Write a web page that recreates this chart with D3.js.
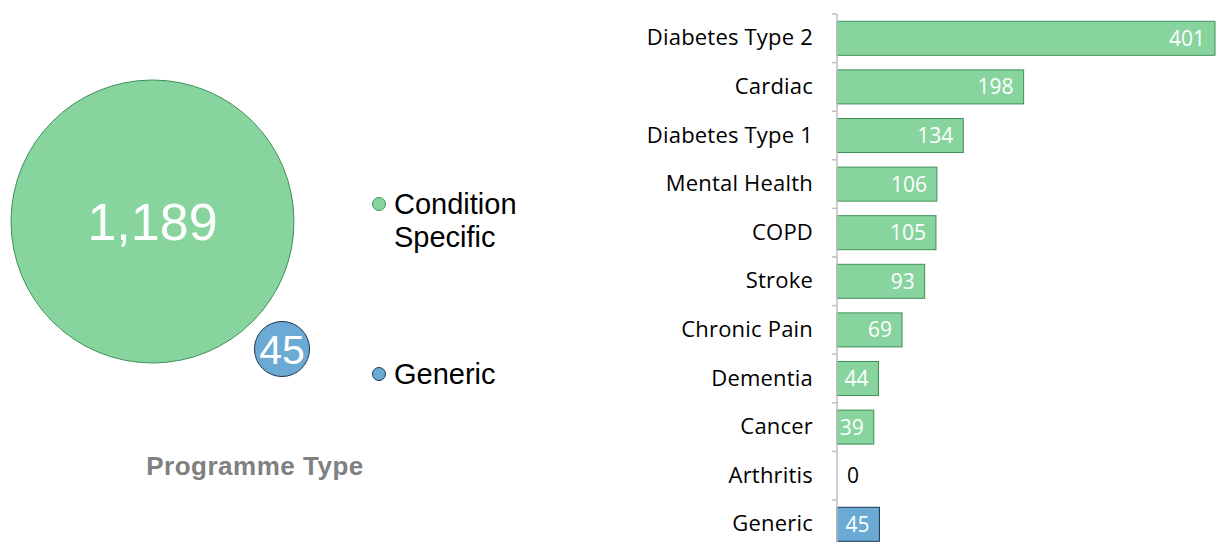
<!DOCTYPE html>
<html>
<head>
<meta charset="utf-8">
<script src="https://cdn.jsdelivr.net/npm/d3@7"></script>
<style>
  body { margin: 0; background: #fff; }
  svg { display: block; }
</style>
</head>
<body>
<div class="canvas"></div>
<script>
// bubble data (programme type)
var typeNames = ["Condition Specific", "Generic"];
var typeValues = [1189, 45];
var typeColors = ["#88d49e", "#6aaad4"];
var typeStrokes = ["#3f8f57", "#1f3550"];

// bar data (conditions)
var conditions = ["Diabetes Type 2", "Cardiac", "Diabetes Type 1", "Mental Health", "COPD",
  "Stroke", "Chronic Pain", "Dementia", "Cancer", "Arthritis", "Generic"];
var counts = [401, 198, 134, 106, 105, 93, 69, 44, 39, 0, 45];
var barTypes = [0, 0, 0, 0, 0, 0, 0, 0, 0, 0, 1];

var width = 1216;
var height = 542;

var svg = d3.select(".canvas")
  .append("svg")
  .attr("width", width)
  .attr("height", height);

/* bubbles */
var rScale = d3.scaleSqrt().domain([0, 1189]).range([0, 141.5]);
var bubbleCenters = [[152.5, 221.5], [282, 349]];
var bubbles = svg.append("g").attr("class", "bubbles");

bubbles.selectAll("circle")
  .data(typeValues)
  .enter()
  .append("circle")
  .attr("cx", (d, i) => bubbleCenters[i][0])
  .attr("cy", (d, i) => bubbleCenters[i][1])
  .attr("r", (d) => rScale(d))
  .style("fill", (d, i) => typeColors[i])
  .style("stroke", (d, i) => typeStrokes[i])
  .style("stroke-width", 1);

bubbles.selectAll("text")
  .data(typeValues)
  .enter()
  .append("text")
  .attr("x", (d, i) => bubbleCenters[i][0])
  .attr("y", (d, i) => bubbleCenters[i][1])
  .attr("dy", "0.36em")
  .attr("text-anchor", "middle")
  .style("font-family", "'Liberation Sans', Arial, sans-serif")
  .style("font-size", (d, i) => (i === 0 ? "52px" : "41px"))
  .style("fill", "#fff")
  .text((d) => d3.format(",")(d));

/* legend */
var legendY = [204, 374];
var legend = svg.append("g").attr("class", "legend");
legend.selectAll("circle")
  .data(typeNames)
  .enter()
  .append("circle")
  .attr("cx", 379)
  .attr("cy", (d, i) => legendY[i])
  .attr("r", 6.5)
  .style("fill", (d, i) => typeColors[i])
  .style("stroke", (d, i) => typeStrokes[i])
  .style("stroke-width", 1);

legend.selectAll("text")
  .data(typeNames)
  .enter()
  .append("text")
  .attr("x", 394)
  .attr("y", (d, i) => legendY[i] + 10)
  .style("font-family", "'Liberation Sans', Arial, sans-serif")
  .style("font-size", "29px")
  .style("fill", "#000")
  .each(function (d) {
    var words = d.split(" ");
    var t = d3.select(this);
    words.forEach(function (w, j) {
      t.append("tspan").attr("x", 394).attr("dy", j === 0 ? 0 : 33).text(w);
    });
  });

svg.append("text")
  .attr("x", 255)
  .attr("y", 475)
  .attr("text-anchor", "middle")
  .style("font-family", "'Liberation Sans', Arial, sans-serif")
  .style("font-size", "26px")
  .style("font-weight", "bold")
  .style("letter-spacing", "0.5px")
  .style("fill", "#808080")
  .text("Programme Type");

/* bar chart */
var x0 = 837;
var xScale = d3.scaleLinear().domain([0, 401]).range([x0, 1215]);
var yScale = d3.scaleBand()
  .domain(conditions)
  .range([14, 14 + 48.6 * conditions.length])
  .paddingInner(0.3)
  .paddingOuter(0.15);

var bars = svg.append("g").attr("class", "bars");
bars.selectAll("rect")
  .data(conditions)
  .enter()
  .append("rect")
  .attr("x", x0)
  .attr("y", (d) => yScale(d))
  .attr("width", (d, i) => xScale(counts[i]) - x0)
  .attr("height", yScale.bandwidth())
  .style("fill", (d, i) => typeColors[barTypes[i]])
  .style("stroke", (d, i) => typeStrokes[barTypes[i]])
  .style("stroke-width", 1)
  .style("display", (d, i) => (counts[i] > 0 ? null : "none"));

bars.selectAll("text.value")
  .data(conditions)
  .enter()
  .append("text")
  .attr("class", "value")
  .attr("x", (d, i) => (counts[i] > 0 ? xScale(counts[i]) - 10 : x0 + 10))
  .attr("y", (d) => yScale(d) + yScale.bandwidth() / 2)
  .attr("dy", "0.36em")
  .attr("text-anchor", (d, i) => (counts[i] > 0 ? "end" : "start"))
  .style("font-family", "'Open Sans', sans-serif")
  .style("font-size", "21px")
  .style("fill", (d, i) => (counts[i] > 0 ? "#fff" : "#000"))
  .text((d, i) => counts[i]);

/* y axis */
var yAxis = d3.axisLeft(yScale).tickSize(0).tickPadding(24);
var axisG = svg.append("g")
  .attr("class", "y axis")
  .attr("transform", `translate(${x0}, 0)`)
  .call(yAxis);
axisG.select(".domain").remove();
axisG.selectAll("text")
  .style("font-family", "'Open Sans', sans-serif")
  .style("font-size", "22px")
  .style("letter-spacing", "0.2px")
  .style("fill", "#000");

var step = yScale.step();
var tickYs = d3.range(conditions.length + 1).map((i) => 14 + i * step);
svg.append("line")
  .attr("x1", x0).attr("x2", x0)
  .attr("y1", 14).attr("y2", height)
  .style("stroke", "#bfbfbf")
  .style("stroke-width", 1.5);
svg.selectAll("line.tick")
  .data(tickYs)
  .enter()
  .append("line")
  .attr("class", "tick")
  .attr("x1", x0 - 5).attr("x2", x0)
  .attr("y1", (d) => d).attr("y2", (d) => d)
  .style("stroke", "#bfbfbf")
  .style("stroke-width", 1.5);
</script>
</body>
</html>
